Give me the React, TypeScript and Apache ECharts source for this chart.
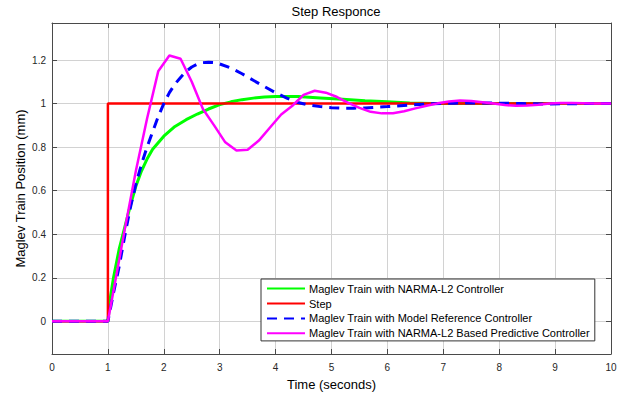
import React, { useEffect, useRef } from "react";
import * as echarts from "echarts";

// Step input
const stepT = [0, 1, 1, 10];
const stepY = [0, 0, 1, 1];

// Maglev Train with NARMA-L2 Controller (green)
const narmaT = [0, 1, 1.05, 1.1, 1.2, 1.3, 1.4, 1.5, 1.6, 1.7, 1.8, 2.0, 2.2, 2.4, 2.6, 2.8, 3.0, 3.2, 3.4, 3.6, 3.8, 4.0, 4.4, 4.8, 5.2, 5.6, 6.0, 6.4, 6.8, 10];
const narmaY = [0, 0, 0.12, 0.2, 0.33, 0.43, 0.53, 0.62, 0.69, 0.745, 0.79, 0.85, 0.895, 0.926, 0.952, 0.975, 0.995, 1.008, 1.018, 1.025, 1.03, 1.033, 1.032, 1.026, 1.02, 1.013, 1.008, 1.003, 1.0, 1.0];

// Maglev Train with Model Reference Controller (blue dashed)
const mrcT = [0, 1, 1.1, 1.2, 1.3, 1.4, 1.5, 1.6, 1.7, 1.8, 1.9, 2.0, 2.1, 2.2, 2.3, 2.4, 2.5, 2.6, 2.7, 2.8, 2.9, 3.0, 3.2, 3.4, 3.6, 3.8, 4.0, 4.2, 4.4, 4.6, 4.8, 5.0, 5.2, 5.4, 5.6, 5.8, 6.0, 6.4, 6.8, 7.2, 7.6, 8.0, 8.4, 8.8, 9.2, 9.6, 10];
const mrcY = [0, 0, 0.13, 0.25, 0.39, 0.52, 0.63, 0.72, 0.8, 0.87, 0.94, 1.0, 1.05, 1.09, 1.12, 1.148, 1.168, 1.181, 1.188, 1.19, 1.188, 1.182, 1.163, 1.137, 1.107, 1.078, 1.05, 1.025, 1.005, 0.993, 0.986, 0.981, 0.979, 0.979, 0.98, 0.983, 0.986, 0.993, 0.999, 1.002, 1.003, 1.002, 1.0, 0.998, 0.999, 1.0, 1.0];

// Maglev Train with NARMA-L2 Based Predictive Controller (magenta)
const predT = [0, 1, 1.3, 1.5, 1.7, 1.9, 2.1, 2.3, 2.5, 2.7, 2.9, 3.1, 3.3, 3.5, 3.7, 3.9, 4.1, 4.3, 4.5, 4.7, 4.9, 5.1, 5.3, 5.5, 5.7, 5.9, 6.1, 6.3, 6.5, 6.7, 6.9, 7.1, 7.3, 7.5, 7.7, 7.9, 8.1, 8.3, 8.5, 8.7, 8.9, 9.1, 9.3, 9.5, 9.7, 10];
const predY = [0, 0, 0.42, 0.69, 0.93, 1.148, 1.221, 1.206, 1.1, 0.975, 0.9, 0.822, 0.784, 0.788, 0.83, 0.89, 0.95, 0.99, 1.04, 1.059, 1.05, 1.03, 1.003, 0.98, 0.962, 0.955, 0.956, 0.965, 0.978, 0.99, 1.001, 1.01, 1.014, 1.012, 1.006, 1.0, 0.993, 0.99, 0.991, 0.995, 1.0, 1.003, 1.003, 1.002, 1.0, 1.0];

const yTicks = [0, 0.2, 0.4, 0.6, 0.8, 1.0, 1.2];

const seriesNames = [
  "Maglev Train with NARMA-L2 Controller",
  "Step",
  "Maglev Train with Model Reference Controller",
  "Maglev Train with NARMA-L2 Based Predictive Controller",
];

const pairs = (t: number[], y: number[]) => t.map((v, i) => [v, y[i]]);

const FONT = "Liberation Sans, Arial, Helvetica, sans-serif";
const BOX = "#4a4a4a";
const GRIDC = "#d2d2d2";

export default function App() {
  const ref = useRef<HTMLDivElement>(null);
  useEffect(() => {
    if (!ref.current) return;
    const chart = echarts.init(ref.current, undefined, { renderer: "svg" });
    const tickStyle = { show: true, inside: true, length: 5, lineStyle: { color: BOX, width: 1 } };
    const lineAx = { show: true, onZero: false, lineStyle: { color: BOX, width: 1 } };
    chart.setOption({
      animation: false,
      backgroundColor: "#ffffff",
      textStyle: { fontFamily: FONT },
      title: {
        text: "Step Responce",
        left: 331,
        textAlign: "center",
        top: 0,
        textStyle: { fontFamily: FONT, fontSize: 13, fontWeight: "normal", color: "#000" },
      },
      grid: { left: 52, right: 11, top: 23, bottom: 42, containLabel: false },
      legend: {
        orient: "vertical",
        left: 261,
        top: 279,
        data: seriesNames,
        itemWidth: 38,
        itemHeight: 14,
        itemGap: 3.7,
        padding: [4, 5, 2, 5],
        backgroundColor: "#ffffff",
        borderColor: "#333333",
        borderWidth: 1,
        borderRadius: 0,
        itemStyle: { opacity: 0 },
        textStyle: { fontFamily: FONT, fontSize: 11, color: "#000", padding: [0, 0, 0, -1] },
      },
      xAxis: [
        {
          type: "value",
          min: 0,
          max: 10,
          interval: 1,
          name: "Time (seconds)",
          nameLocation: "middle",
          nameGap: 24,
          nameMoveOverlap: false,
          nameTextStyle: { fontFamily: FONT, fontSize: 13, color: "#000" },
          axisLine: lineAx,
          axisTick: tickStyle,
          axisLabel: { fontFamily: FONT, fontSize: 10, color: "#262626", margin: 8 },
          splitLine: { show: true, lineStyle: { color: GRIDC, width: 1 } },
        },
        {
          type: "value",
          position: "top",
          min: 0,
          max: 10,
          interval: 1,
          axisLine: lineAx,
          axisTick: tickStyle,
          axisLabel: { show: false },
          splitLine: { show: false },
        },
      ],
      yAxis: [
        {
          type: "value",
          min: -0.15,
          max: 1.37,
          name: "Maglev Train Position (mm)",
          nameLocation: "middle",
          nameGap: 25,
          nameMoveOverlap: false,
          nameTextStyle: { fontFamily: FONT, fontSize: 13, color: "#000" },
          axisLine: lineAx,
          axisTick: { ...tickStyle, customValues: yTicks },
          axisLabel: {
            customValues: yTicks,
            fontFamily: FONT,
            fontSize: 10,
            color: "#262626",
            margin: 6,
            formatter: (v: number) => String(Math.round(v * 10) / 10),
          },
          splitLine: { show: true, lineStyle: { color: GRIDC, width: 1 } },
        },
        {
          type: "value",
          position: "right",
          min: -0.15,
          max: 1.37,
          axisLine: lineAx,
          axisTick: { ...tickStyle, customValues: yTicks },
          axisLabel: { show: false, customValues: yTicks },
          splitLine: { show: false },
        },
      ],
      series: [
        {
          name: seriesNames[0],
          type: "line",
          data: pairs(narmaT, narmaY),
          showSymbol: false,
          symbol: "none",
          lineStyle: { color: "#00ff00", width: 3 },
          itemStyle: { color: "#00ff00" },
          z: 2,
        },
        {
          name: seriesNames[1],
          type: "line",
          data: pairs(stepT, stepY),
          showSymbol: false,
          symbol: "none",
          lineStyle: { color: "#ff0000", width: 2.5 },
          itemStyle: { color: "#ff0000" },
          z: 3,
        },
        {
          name: seriesNames[2],
          type: "line",
          data: pairs(mrcT, mrcY),
          showSymbol: false,
          symbol: "none",
          lineStyle: { color: "#0000ff", width: 3, type: [10, 7] },
          itemStyle: { color: "#0000ff" },
          z: 4,
        },
        {
          name: seriesNames[3],
          type: "line",
          data: pairs(predT, predY),
          showSymbol: false,
          symbol: "none",
          lineStyle: { color: "#ff00ff", width: 2.5 },
          itemStyle: { color: "#ff00ff" },
          z: 5,
        },
      ],
    });
    return () => chart.dispose();
  }, []);
  return <div ref={ref} style={{ width: 622, height: 396, position: "absolute", left: 0, top: 0 }} />;
}
